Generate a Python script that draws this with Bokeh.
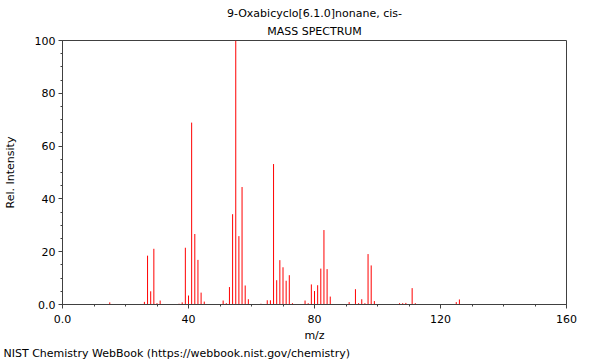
from bokeh.plotting import figure
from bokeh.models import Range1d, Title, CustomJSTickFormatter, SingleIntervalTicker, ColumnDataSource
from bokeh.embed import file_html
from bokeh.resources import INLINE

title_line1 = "9-Oxabicyclo[6.1.0]nonane, cis-"
title_line2 = "MASS SPECTRUM"
footer = "NIST Chemistry WebBook (https://webbook.nist.gov/chemistry)"

mz = [15, 26, 27, 28, 29, 30, 31, 37, 38, 39, 40, 41, 42, 43, 44, 45,
      51, 52, 53, 54, 55, 56, 57, 58, 59, 63, 65, 66, 67, 68, 69, 70,
      71, 72, 73, 77, 78, 79, 80, 81, 82, 83, 84, 85, 91, 93, 94, 95,
      96, 97, 98, 99, 107, 108, 109, 111, 112, 125, 126]
intensity = [0.8, 1.0, 18.5, 5.0, 21.1, 0.5, 1.5, 0.3, 0.8, 21.5, 3.4, 68.9, 26.7, 16.9, 4.5, 1.1,
             1.5, 0.5, 6.6, 34.2, 100.0, 25.9, 44.5, 7.2, 2.0, 0.3, 1.6, 1.6, 53.2, 9.2, 16.8, 14.1,
             9.0, 11.1, 0.5, 1.5, 0.5, 7.6, 5.1, 7.3, 13.6, 28.2, 13.4, 3.0, 0.9, 5.8, 0.5, 2.0,
             0.5, 19.1, 14.8, 1.3, 0.5, 0.5, 0.6, 6.2, 0.5, 0.9, 1.9]
baseline = [0] * len(mz)

FONT = "DejaVu Sans"
AX = "#404040"

p = figure(width=600, height=360, output_backend="svg", toolbar_location=None,
           x_range=Range1d(0, 160), y_range=Range1d(0, 100),
           min_border_left=62, min_border_right=34, min_border_top=40, min_border_bottom=56)
p.background_fill_color = "white"
p.border_fill_color = "white"
p.outline_line_color = AX
p.outline_line_width = 1
p.xgrid.visible = False
p.ygrid.visible = False

src = ColumnDataSource(dict(x=mz, y0=baseline, y1=intensity))
p.segment(x0="x", y0="y0", x1="x", y1="y1", source=src, line_color="#ff0000", line_width=1)

fmt = CustomJSTickFormatter(code="return tick == 0 ? '0.0' : tick.toFixed(0);")

xa = p.xaxis[0]
xa.ticker = SingleIntervalTicker(interval=40, num_minor_ticks=4)
xa.formatter = fmt
xa.axis_label = "m/z"
ya = p.yaxis[0]
ya.ticker = SingleIntervalTicker(interval=20, num_minor_ticks=4)
ya.formatter = fmt
ya.axis_label = "Rel. Intensity"

for ax in (xa, ya):
    ax.axis_line_color = AX
    ax.major_tick_line_color = AX
    ax.minor_tick_line_color = AX
    ax.major_tick_in = 0
    ax.major_tick_out = 4
    ax.minor_tick_in = 0
    ax.minor_tick_out = 2
    ax.major_label_text_font = FONT
    ax.major_label_text_font_size = "11px"
    ax.major_label_text_color = "black"
    ax.axis_label_text_font = FONT
    ax.axis_label_text_font_size = "11px"
    ax.axis_label_text_font_style = "normal"
    ax.axis_label_text_color = "black"
xa.major_label_standoff = 6
xa.axis_label_standoff = 3
ya.major_label_standoff = 3
ya.axis_label_standoff = 15

# titles: first added sits closest to the frame
p.add_layout(Title(text=title_line2, align="center", standoff=5,
                   text_font=FONT, text_font_size="11px", text_font_style="normal",
                   text_color="black"), "above")
p.add_layout(Title(text=title_line1, align="center", standoff=2,
                   text_font=FONT, text_font_size="11px", text_font_style="normal",
                   text_color="black"), "above")
p.add_layout(Title(text=footer, align="left", offset=-59, standoff=0,
                   text_font=FONT, text_font_size="11px", text_font_style="normal",
                   text_color="black"), "below")

html = file_html(p, INLINE)
html = html.replace("</head>", "<style>html,body{margin:0;padding:0;overflow:hidden}</style></head>", 1)
open("out.html", "w").write(html)
